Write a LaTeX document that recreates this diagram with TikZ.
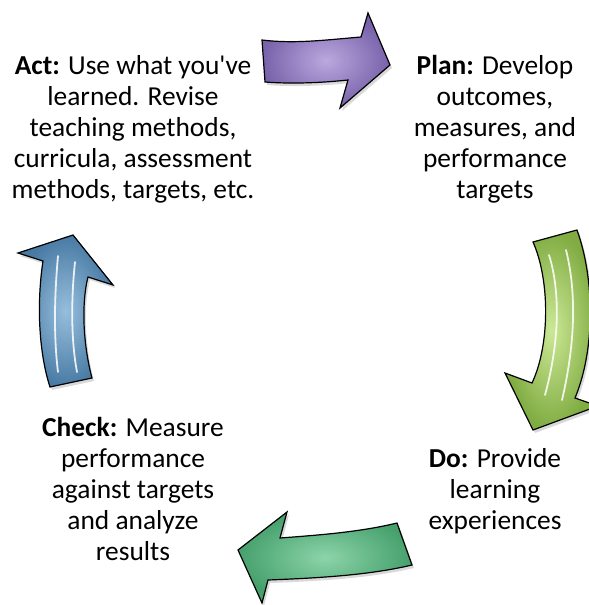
\documentclass[tikz,border=0pt]{standalone}
\usepackage{fontspec}
\setmainfont{Carlito}
\usetikzlibrary{shadows}
\definecolor{actdark}{RGB}{120,98,170}
\definecolor{actlight}{RGB}{186,168,222}
\definecolor{plandark}{RGB}{128,172,66}
\definecolor{planlight}{RGB}{204,232,150}
\definecolor{dodark}{RGB}{70,160,108}
\definecolor{dolight}{RGB}{140,212,170}
\definecolor{checkdark}{RGB}{72,122,164}
\definecolor{checklight}{RGB}{150,190,220}

\begin{document}
\begin{tikzpicture}[x=1bp,y=-1bp,
  phase/.style={align=center,inner sep=0pt,font=\fontsize{27.5}{31}\selectfont},
  bigarrow/.style={draw=black,line width=1.2pt,
    drop shadow={opacity=0.3,shadow xshift=2bp,shadow yshift=-3bp}},
  gloss/.style={white,line width=1.8pt,opacity=0.85,line cap=round}]
\useasboundingbox (0,0) rectangle (589,605);

\path (133,129.5) node(a) [phase]{\textbf{Act:} Use what you\textquotesingle ve\\
learned. Revise\\
teaching methods,\\
curricula, assessment\\
methods, targets, etc.};
\path (495,129) node(p) [phase]{\textbf{Plan:} Develop\\
outcomes,\\
measures, and\\
performance\\
targets};
\path (495,491.5) node(d) [phase]{\textbf{Do:} Provide\\
learning\\
experiences};
\path (133,489) node(c) [phase]{\textbf{Check:} Measure\\
performance\\
against targets\\
and analyze\\
results};

% act -> plan
\path[bigarrow,inner color=actlight,outer color=actdark]
  (262,40) .. controls (295,44) and (325,40) .. (361,37) -- (368,13) -- (390,65)
  -- (340,108) -- (348,80) .. controls (320,83) and (290,84) .. (265,82) -- cycle;
% plan -> do
\path[bigarrow,inner color=planlight,outer color=plandark]
  (577,230) .. controls (595,280) and (595,350) .. (575,398) -- (598,406)
  -- (533,430) -- (505,373) -- (532,383) .. controls (550,345) and (550,280) .. (533,242) -- cycle;
\draw[gloss] (549,255) .. controls (560,290) and (560,340) .. (545,395);
\draw[gloss] (566,250) .. controls (576,290) and (576,340) .. (562,400);
% do -> check
\path[bigarrow,inner color=dolight,outer color=dodark]
  (397,523) -- (412,565) .. controls (370,575) and (320,578) .. (268,580) -- (262,603)
  -- (238,550) -- (287,512) -- (280,538) .. controls (320,535) and (360,532) .. (397,523) -- cycle;
% check -> act
\path[bigarrow,inner color=checklight,outer color=checkdark]
  (50,387) .. controls (38,350) and (37,300) .. (43,261) -- (18,253) -- (73,235)
  -- (113,285) -- (88,277) .. controls (82,300) and (82,340) .. (92,378) -- cycle;
\draw[gloss] (58,256) .. controls (54,300) and (54,340) .. (58,372);
\draw[gloss] (75,262) .. controls (71,300) and (71,340) .. (77,372);
\end{tikzpicture}
\end{document}
